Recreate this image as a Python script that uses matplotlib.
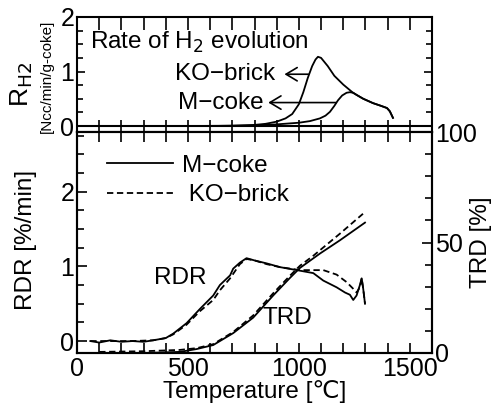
import matplotlib
matplotlib.use("Agg")
import matplotlib.pyplot as plt
from matplotlib.ticker import MultipleLocator

plt.rcParams['font.family'] = ['Liberation Sans', 'DejaVu Sans']

# ---- top panel: rate of H2 evolution ----
h2_T_ko = [0, 500, 700, 800, 850, 900, 940, 970, 1000, 1020, 1040, 1060, 1075, 1086, 1100, 1130, 1160,
           1200, 1244, 1290, 1334, 1370, 1397, 1410, 1424]
h2_R_ko = [0, 0, 0.005, 0.02, 0.04, 0.08, 0.14, 0.22, 0.40, 0.62, 0.88, 1.10, 1.22, 1.27, 1.25, 1.10, 0.92,
           0.76, 0.61, 0.50, 0.42, 0.37, 0.33, 0.27, 0.15]
h2_T_m = [0, 600, 800, 900, 1000, 1050, 1095, 1120, 1140, 1160, 1176, 1195, 1215, 1230, 1245, 1260,
          1290, 1334, 1370, 1397, 1410, 1424]
h2_R_m = [0, 0, 0.01, 0.03, 0.06, 0.09, 0.14, 0.19, 0.26, 0.37, 0.47, 0.56, 0.61, 0.62, 0.61, 0.57,
          0.50, 0.42, 0.37, 0.33, 0.27, 0.15]

# ---- bottom panel: RDR ----
rdr_T_m = [60, 100, 150, 200, 250, 300, 343, 400, 434, 494, 554, 614, 644, 690, 704, 734, 764, 800,
           855, 915, 991, 1065, 1110, 1170, 1208, 1230, 1245, 1260, 1275, 1283, 1290, 1298]
rdr_m = [0.0, -0.02, 0.01, -0.01, 0.0, -0.01, 0.01, 0.04, 0.10, 0.24, 0.43, 0.61, 0.75, 0.88, 0.97, 1.05, 1.11, 1.08,
         1.04, 0.99, 0.95, 0.91, 0.81, 0.72, 0.65, 0.62, 0.55, 0.61, 0.75, 0.84, 0.70, 0.50]
rdr_T_ko = [60, 150, 250, 343, 400, 434, 494, 554, 614, 644, 690, 734, 764, 800, 855, 915, 1005, 1110,
            1170, 1215, 1245, 1260, 1275, 1283, 1290, 1298]
rdr_ko = [0.0, 0.0, 0.0, 0.01, 0.04, 0.09, 0.22, 0.40, 0.55, 0.68, 0.84, 1.03, 1.10, 1.08, 1.03, 0.99, 0.95, 0.95,
          0.89, 0.79, 0.70, 0.65, 0.72, 0.84, 0.70, 0.50]

# ---- bottom panel: TRD ----
trd_T_m = [100, 300, 464, 540, 614, 704, 794, 884, 960, 1005, 1095, 1185, 1298]
trd_m = [0, 0, 0.5, 1.8, 3.6, 9, 16, 26, 34, 38.5, 45, 51, 59]
trd_T_ko = [100, 300, 464, 540, 614, 704, 794, 884, 960, 1005, 1065, 1185, 1289]
trd_ko = [0.5, 0.8, 1.4, 2.2, 4.0, 9.5, 17, 27, 35, 39.5, 44, 54, 63]

W, H = 497, 407
fig = plt.figure(figsize=(W / 100, H / 100), dpi=100)
L, R = 77 / W, 432 / W
ax1 = fig.add_axes([L, 1 - 132 / H, R - L, (132 - 17) / H])
ax2 = fig.add_axes([L, 1 - 353 / H, R - L, (353 - 132) / H])
ax3 = ax2.twinx()

lw = 1.3
fs = 17.5
tfs = 18
dash = (0, (3.5, 2))

# top panel
ax1.plot(h2_T_ko, h2_R_ko, color='black', lw=lw)
ax1.plot(h2_T_m, h2_R_m, color='black', lw=lw)
ax1.axhline(0, color='black', lw=1.5)
ax1.set_xlim(0, 1600)
ax1.set_ylim(-0.11, 2)
ax1.set_yticks([0, 1, 2])
ax1.yaxis.set_minor_locator(MultipleLocator(0.25))
ax1.xaxis.set_major_locator(MultipleLocator(100))
ax1.tick_params(axis='x', which='both', direction='in', top=True, bottom=True, labelbottom=False, length=9, width=1.2)
ax1.tick_params(axis='y', which='major', direction='in', left=True, right=True, length=6, width=1.2, labelsize=tfs, pad=2)
ax1.tick_params(axis='y', which='minor', direction='in', left=True, right=True, length=4, width=1.2)
ax1.text(59, 1.54, 'Rate of H$_2$ evolution', fontsize=fs, va='center', ha='left')
ax1.text(892, 0.95, 'KO\u2212brick', fontsize=fs, ha='right', va='center')
ax1.text(840, 0.43, 'M\u2212coke', fontsize=fs, ha='right', va='center')
arrow = dict(arrowstyle='->, head_length=0.5, head_width=0.3', color='black', lw=1.2,
             shrinkA=0, shrinkB=0, mutation_scale=16)
ax1.annotate('', xy=(935, 0.95), xytext=(1043, 0.95), arrowprops=arrow)
ax1.annotate('', xy=(862, 0.43), xytext=(1168, 0.43), arrowprops=arrow)

# bottom panel
ax2.plot(rdr_T_m, rdr_m, color='black', lw=lw, label='M\u2212coke')
ax2.plot(rdr_T_ko, rdr_ko, color='black', lw=lw, ls=dash, label=' KO\u2212brick')
ax3.plot(trd_T_m, trd_m, color='black', lw=lw)
ax3.plot(trd_T_ko, trd_ko, color='black', lw=lw, ls=dash)
ax2.set_xlim(0, 1600)
ax2.set_ylim(-0.16, 2.8)
ax3.set_ylim(0, 100)
ax2.set_xticks([0, 500, 1000, 1500])
ax2.xaxis.set_minor_locator(MultipleLocator(100))
ax2.set_yticks([0, 1, 2])
ax2.yaxis.set_minor_locator(MultipleLocator(0.25))
ax3.set_yticks([0, 50, 100])
ax3.yaxis.set_minor_locator(MultipleLocator(10))
ax2.tick_params(axis='x', which='both', direction='in', top=True, bottom=True, length=7, width=1.2, labelsize=tfs, pad=3)
ax2.tick_params(axis='y', which='major', direction='in', left=True, right=False, length=7, width=1.2, labelsize=tfs, pad=2)
ax2.tick_params(axis='y', which='minor', direction='in', left=True, right=False, length=5, width=1.2)
ax3.tick_params(axis='y', which='major', direction='in', length=7, width=1.2, labelsize=tfs, pad=2)
ax3.tick_params(axis='y', which='minor', direction='in', length=5, width=1.2)
ax2.text(465, 0.85, 'RDR', fontsize=fs, ha='center', va='center')
ax2.text(946, 0.31, 'TRD', fontsize=fs, ha='center', va='center')
ax2.legend(loc='upper left', bbox_to_anchor=(0.057, 0.94), frameon=False, fontsize=fs,
           handlelength=2.7, handletextpad=0.37, labelspacing=0.3, borderaxespad=0)

for ax in (ax1, ax2, ax3):
    for s in ax.spines.values():
        s.set_linewidth(1.5)

ax2.set_xlabel('Temperature [\u2103]', fontsize=fs)
ax2.xaxis.set_label_coords(0.5, -0.122)
ax2.set_ylabel('RDR [%/min]', fontsize=fs)
ax2.yaxis.set_label_coords(-0.113, 0.51)
ax3.set_ylabel('TRD [%]', fontsize=fs)
ax3.yaxis.set_label_coords(1.107, 0.5)

fig.text(22 / W, 1 - 84 / H, 'R$_{\\mathrm{H2}}$', rotation=90, fontsize=19, ha='center', va='center')
fig.text(47 / W, 1 - 76 / H, '[Ncc/min/g-coke]', rotation=90, fontsize=11, ha='center', va='center')

fig.savefig('out.png', dpi=100)
